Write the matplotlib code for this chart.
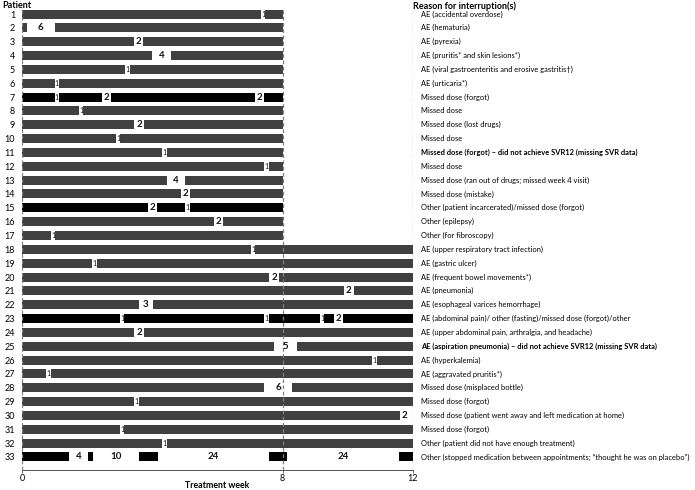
import matplotlib
matplotlib.use("Agg")
import matplotlib.pyplot as plt
from matplotlib import font_manager

plt.rcParams['font.family'] = ['Lato', 'DejaVu Sans']

names = sorted({f.name for f in font_manager.fontManager.ttflist})
narrow = 'Liberation Sans Narrow' in names

patients = list(range(1, 34))
treatment_end = [8] * 17 + [12] * 16
treatment_end[29] = 11.89  # patient 30 stops with the interruption
multi = [7, 15, 23, 33]

# (start week, days interrupted)
interruptions = [
    [(7.33, 1)],
    [(0.15, 6)],
    [(3.44, 2)],
    [(4.0, 4)],
    [(3.16, 1)],
    [(1.0, 1)],
    [(1.0, 1), (2.44, 2), (7.15, 2)],
    [(1.74, 1)],
    [(3.45, 2)],
    [(2.88, 1)],
    [(4.3, 1)],
    [(7.44, 1)],
    [(4.44, 4)],
    [(4.88, 2)],
    [(3.87, 2), (5.01, 1)],
    [(5.88, 2)],
    [(0.88, 1)],
    [(7.02, 1)],
    [(2.15, 1)],
    [(7.59, 2)],
    [(9.89, 2)],
    [(3.58, 3)],
    [(3.0, 1), (7.44, 1), (9.14, 1), (9.58, 2)],
    [(3.45, 2)],
    [(7.73, 5)],
    [(10.75, 1)],
    [(0.74, 1)],
    [(7.44, 6)],
    [(3.44, 1)],
    [(11.6, 2)],
    [(3.0, 1)],
    [(4.3, 1)],
    [(1.45, 4), (2.17, 10), (4.16, 24), (8.14, 24)],
]

reasons = [
    "AE (accidental overdose)",
    "AE (hematuria)",
    "AE (pyrexia)",
    "AE (pruritis* and skin lesions*)",
    "AE (viral gastroenteritis and erosive gastritis\u2020)",
    "AE (urticaria*)",
    "Missed dose (forgot)",
    "Missed dose",
    "Missed dose (lost drugs)",
    "Missed dose",
    "Missed dose (forgot) \u2013 did not achieve SVR12 (missing SVR data)",
    "Missed dose",
    "Missed dose (ran out of drugs; missed week 4 visit)",
    "Missed dose (mistake)",
    "Other (patient incarcerated)/missed dose (forgot)",
    "Other (epilepsy)",
    "Other (for fibroscopy)",
    "AE (upper respiratory tract infection)",
    "AE (gastric ulcer)",
    "AE (frequent bowel movements*)",
    "AE (pneumonia)",
    "AE (esophageal varices hemorrhage)",
    "AE (abdominal pain)/ other (fasting)/missed dose (forgot)/other",
    "AE (upper abdominal pain, arthralgia, and headache)",
    "AE (aspiration pneumonia) \u2013 did not achieve SVR12 (missing SVR data)",
    "AE (hyperkalemia)",
    "AE (aggravated pruritis*)",
    "Missed dose (misplaced bottle)",
    "Missed dose (forgot)",
    "Missed dose (patient went away and left medication at home)",
    "Missed dose (forgot)",
    "Other (patient did not have enough treatment)",
    "Other (stopped medication between appointments; \u201cthought he was on placebo\u201d)",
]
bold_rows = [11, 25]

xticks = [0, 8, 12]

W, H = 695, 490
fig = plt.figure(figsize=(W / 100, H / 100), dpi=100)
left_px, right_px, top_px, bottom_px = 22, 413, 8, 470
ax = fig.add_axes([left_px / W, 1 - bottom_px / H, (right_px - left_px) / W, (bottom_px - top_px) / H])

bar_h = 0.65
for p, end, ints in zip(patients, treatment_end, interruptions):
    color = '#000000' if p in multi else '#404040'
    cur = 0.0
    segs = []
    for (s, d) in ints:
        segs.append((cur, s - cur))
        g = d / 7.0
        fs = 5 if d == 1 else 7
        ax.text(s + g / 2, p, str(d), ha='center', va='center', fontsize=fs,
                fontweight='bold' if d > 1 else 'normal', color='#111111', zorder=4)
        cur = s + g
    if end - cur > 0:
        segs.append((cur, end - cur))
    ax.broken_barh(segs, (p - bar_h / 2, bar_h), facecolors=color, edgecolor='none', zorder=2)

for xv in xticks:
    ax.axvline(xv, color='#808080', lw=0.9, ls=(0, (3, 2)), zorder=3)

ax.set_xlim(0, 12)
ax.set_ylim(33 + 13 / 13.84, 1 - 6 / 13.84)
ax.set_xticks(xticks)
ax.set_xticklabels([str(x) for x in xticks], fontsize=6.5)
ax.tick_params(axis='x', length=2, width=0.6, pad=1, color='#555555')
ax.set_yticks(patients)
ax.set_yticklabels([str(p) for p in patients], fontsize=6.5)
ax.tick_params(axis='y', length=0, pad=5)
for side in ['top', 'right', 'left']:
    ax.spines[side].set_visible(False)
ax.spines['bottom'].set_color('#555555')
ax.spines['bottom'].set_linewidth(0.7)

fig.text((left_px + right_px) / 2 / W, 1 - 485 / H, 'Treatment week', fontsize=6.3,
         fontweight='bold', va='center', ha='center')

fig.text(2 / W, 1 - 6 / H, 'Patient', fontsize=6.5, fontweight='bold', va='center', ha='left')
fig.text(413 / W, 1 - 6 / H, 'Reason for interruption(s)', fontsize=6.5, fontweight='bold', va='center', ha='left')

reason_family = ['Liberation Sans Narrow', 'DejaVu Sans'] if narrow else ['Lato', 'DejaVu Sans']
reason_size = 6.4 if narrow else 5.4
for p, r in zip(patients, reasons):
    ax.text(12.25, p, r, fontsize=reason_size, va='center', ha='left', clip_on=False,
            family=reason_family, fontweight='bold' if p in bold_rows else 'normal')

fig.savefig('out.png', dpi=100)
